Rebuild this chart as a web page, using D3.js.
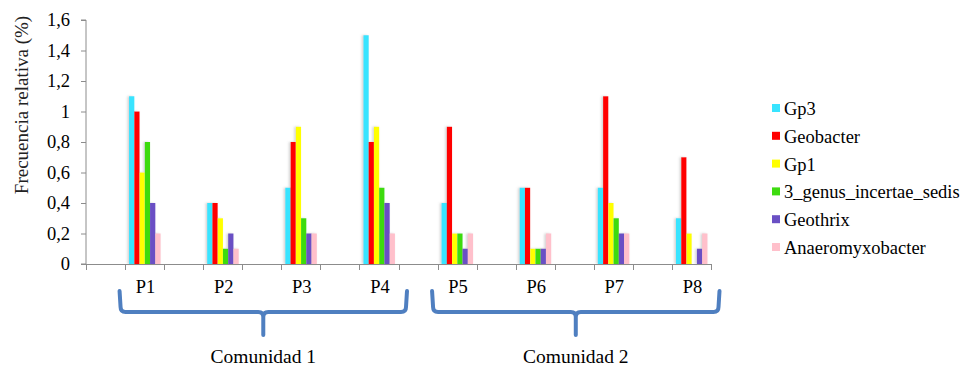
<!DOCTYPE html>
<html>
<head>
<meta charset="utf-8">
<script src="https://cdn.jsdelivr.net/npm/d3@7"></script>
<style>
  html, body { margin: 0; padding: 0; background: #fff; }
  svg text { font-family: 'Liberation Serif', 'Times New Roman', Tinos, 'DejaVu Serif', serif; }
</style>
</head>
<body>
<svg id="chart" width="964" height="367"></svg>
<script>
// ---- Data ----
const categories = ["P1", "P2", "P3", "P4", "P5", "P6", "P7", "P8"];
const seriesNames = ["Gp3", "Geobacter", "Gp1", "3_genus_incertae_sedis", "Geothrix", "Anaeromyxobacter"];
const gp3        = [1.1, 0.4, 0.5, 1.5, 0.4, 0.5, 0.5, 0.3];
const geobacter  = [1.0, 0.4, 0.8, 0.8, 0.9, 0.5, 1.1, 0.7];
const gp1        = [0.6, 0.3, 0.9, 0.9, 0.2, 0.1, 0.4, 0.2];
const genus3     = [0.8, 0.1, 0.3, 0.5, 0.2, 0.1, 0.3, 0.0];
const geothrix   = [0.4, 0.2, 0.2, 0.4, 0.1, 0.1, 0.2, 0.1];
const anaero     = [0.2, 0.1, 0.2, 0.2, 0.2, 0.2, 0.2, 0.2];
const seriesValues = [gp3, geobacter, gp1, genus3, geothrix, anaero];
const seriesColors = ["#38E4FF", "#FF0000", "#FFFF00", "#3EDB10", "#6A50C4", "#FFC0CB"];
const yTicks = [0, 0.2, 0.4, 0.6, 0.8, 1, 1.2, 1.4, 1.6];
const groups = [
  { label: "Comunidad 1", members: ["P1", "P2", "P3", "P4"] },
  { label: "Comunidad 2", members: ["P5", "P6", "P7", "P8"] }
];

// ---- Layout ----
const FONT = "'Liberation Serif', 'Times New Roman', Tinos, 'DejaVu Serif', serif";
const svg = d3.select("#chart");
const mLeft = 86, mRight = 711, mTop = 20, mBottom = 264;

const defs = svg.append("defs");
const f = defs.append("filter").attr("id", "shadow").attr("x", "-50%").attr("y", "-5%")
  .attr("width", "200%").attr("height", "110%");
f.append("feDropShadow").attr("dx", -1.5).attr("dy", 0).attr("stdDeviation", 0.8)
  .attr("flood-color", "#999").attr("flood-opacity", 0.45);

const slots = [];
categories.forEach((c, i) => { slots.push("_gap" + i); slots.push(c); });

const x = d3.scaleBand().domain(slots).range([mLeft, mRight]).padding(0);
const bw = x.bandwidth();
const x1 = d3.scaleBand().domain(seriesNames).range([4, 35.5]).padding(0);
const y = d3.scaleLinear().domain([0, 1.6]).range([mBottom, mTop]);
const color = d3.scaleOrdinal().domain(seriesNames).range(seriesColors);
const fmt = v => String(v).replace(".", ",");

// ---- Bars ----
const g = svg.append("g");
categories.forEach((c, ci) => {
  const cg = g.append("g").attr("filter", "url(#shadow)");
  seriesNames.forEach((s, si) => {
    const v = seriesValues[si][ci];
    if (v <= 0) return;
    cg.append("rect")
      .attr("x", x(c) + x1(s))
      .attr("y", y(v))
      .attr("width", x1.bandwidth())
      .attr("height", y(0) - y(v))
      .attr("fill", color(s));
  });
});

// ---- Axes ----
const axisColor = "#8c8c8c";
const yAxis = svg.append("g").attr("transform", `translate(${mLeft},0)`)
  .call(d3.axisLeft(y).tickValues(yTicks).tickSize(5).tickPadding(11).tickFormat(fmt));
yAxis.attr("font-family", null).attr("font-size", null);
yAxis.select(".domain").attr("stroke", axisColor).attr("d", `M-5,${mTop}H0V${mBottom}H-5`);
yAxis.selectAll(".tick line").attr("stroke", axisColor);
yAxis.selectAll(".tick text")
  .attr("fill", "#000").style("font-size", "18.5px").style("font-family", FONT);

const boundaries = slots.map(s => x(s)).concat([mRight]);
const xg = svg.append("g");
xg.append("line").attr("x1", mLeft).attr("x2", mRight).attr("y1", mBottom + 0.5).attr("y2", mBottom + 0.5)
  .attr("stroke", axisColor).attr("stroke-width", 1);
xg.selectAll("line.t").data(boundaries).enter().append("line").attr("class", "t")
  .attr("x1", d => Math.round(d) + 0.5).attr("x2", d => Math.round(d) + 0.5)
  .attr("y1", mBottom).attr("y2", mBottom + 6)
  .attr("stroke", axisColor).attr("stroke-width", 1);

svg.selectAll("text.cat").data(categories).enter().append("text").attr("class", "cat")
  .attr("x", d => x(d) + bw / 2 + 1)
  .attr("y", 293)
  .attr("text-anchor", "middle")
  .style("font-family", FONT)
  .style("font-size", "18.5px")
  .text(d => d);

svg.append("text")
  .attr("transform", "translate(28,105) rotate(-90)")
  .attr("text-anchor", "middle")
  .style("font-family", FONT)
  .style("font-size", "19px")
  .attr("fill", "#222")
  .text("Frecuencia relativa (%)");

// ---- Brackets ----
const bracketColor = "#4F7FC0";
groups.forEach(gr => {
  const x0 = x(gr.members[0]) - 5.5;
  const xEnd = x(gr.members[gr.members.length - 1]) + bw + 8.5;
  const xc = (x0 + xEnd) / 2;
  const topY = 291, mid = 312, tip = 335, r = 5;
  const p = d3.path();
  p.moveTo(x0, topY);
  p.lineTo(x0 + 1, mid - r);
  p.quadraticCurveTo(x0 + 1, mid, x0 + 1 + r, mid);
  p.lineTo(xc - r, mid);
  p.quadraticCurveTo(xc, mid, xc, mid + r);
  p.lineTo(xc, tip);
  p.moveTo(xc, mid + r);
  p.quadraticCurveTo(xc, mid, xc + r, mid);
  p.lineTo(xEnd - 1 - r, mid);
  p.quadraticCurveTo(xEnd - 1, mid, xEnd - 1, mid - r);
  p.lineTo(xEnd, topY);
  svg.append("path").attr("d", p.toString())
    .attr("fill", "none").attr("stroke", bracketColor)
    .attr("stroke-width", 4).attr("stroke-linecap", "round").attr("stroke-linejoin", "round");
  svg.append("text")
    .attr("x", xc)
    .attr("y", 363)
    .attr("text-anchor", "middle")
    .style("font-family", FONT)
    .style("font-size", "19.5px")
    .text(gr.label);
});

// ---- Legend ----
const legend = svg.append("g");
seriesNames.forEach((s, i) => {
  const by = 115 + i * 27.8;
  legend.append("rect").attr("x", 772).attr("y", by - 11).attr("width", 8).attr("height", 8)
    .attr("fill", color(s));
  legend.append("text").attr("x", 784).attr("y", by)
    .style("font-family", FONT)
    .style("font-size", "18.5px").text(s);
});
</script>
</body>
</html>
